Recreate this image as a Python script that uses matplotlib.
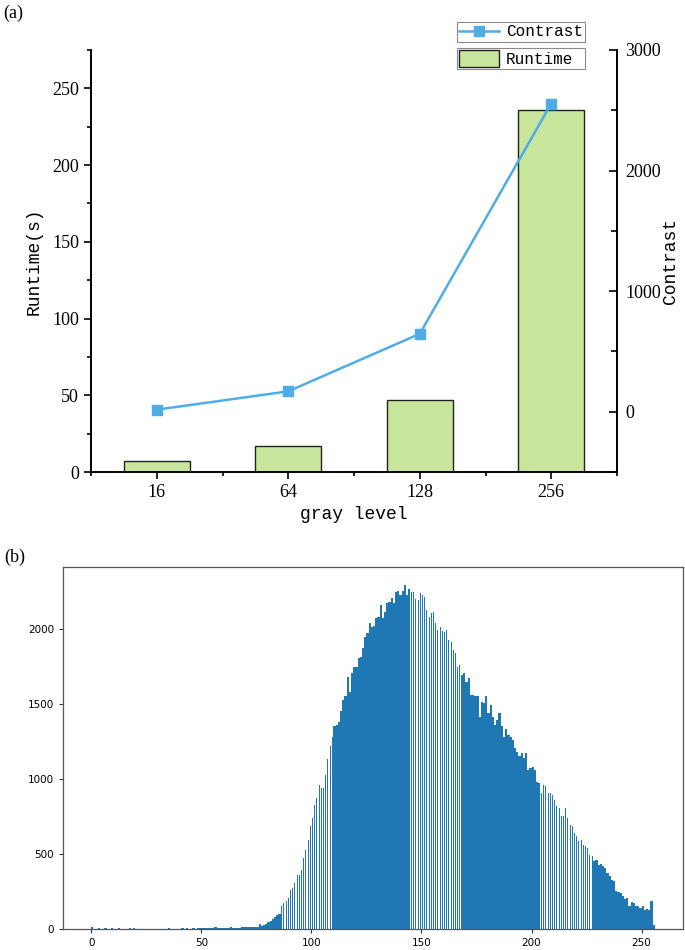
import matplotlib.pyplot as plt
import numpy as np
from matplotlib.ticker import MultipleLocator
from matplotlib.lines import Line2D
from matplotlib.patches import Patch

# panel (a) data
gray_levels = ['16', '64', '128', '256']
runtime = [7.4, 17.0, 46.8, 235.8]      # s
contrast = [17, 169, 646, 2556]

# panel (b) data: 256-bin gray histogram
hist_counts = [
    10, 0, 0, 8, 0, 0, 7, 0, 0, 6, 0, 0, 8, 0, 0, 0, 0, 7, 0, 6,
    0, 0, 0, 0, 0, 0, 0, 0, 0, 0, 0, 0, 0, 0, 0, 5, 0, 0, 0, 0,
    0, 6, 0, 7, 0, 0, 5, 0, 6, 8, 5, 7, 9, 8, 6, 8, 10, 7, 9, 8,
    6, 9, 7, 10, 8, 5, 4, 9, 10, 11, 10, 12, 11, 13, 12, 14,
    30, 22, 28, 35, 45, 55, 67, 78, 90, 100,
    150, 173, 184, 206, 262, 273, 306, 362, 362, 395,
    473, 528, 595, 684, 739, 828, 872, 961, 939, 939,
    1028, 1132, 1217, 1283, 1350, 1361, 1383, 1450, 1527, 1550,
    1683, 1583, 1705, 1749, 1749, 1805, 1816, 1871, 1949, 1971,
    2038, 2016, 2020, 2072, 2083, 2160, 2072, 2116, 2171, 2182,
    2205, 2171, 2249, 2256, 2227, 2256, 2293, 2227, 2264, 2249,
    2249, 2198, 2193, 2238, 2227, 2216, 2127, 2078, 2105, 2116,
    2038, 1994, 2016, 1989, 1983, 1994, 1927, 1916, 1860, 1838,
    1749, 1760,
    1694, 1705, 1649, 1672, 1561, 1561, 1550, 1550, 1416, 1516,
    1505, 1554, 1438, 1494, 1416, 1361, 1394, 1443, 1350, 1283,
    1332, 1294, 1283, 1261, 1205, 1183, 1150, 1172, 1139, 1172,
    1061, 1072, 1083, 1061, 977, 972, 906, 961, 950, 906,
    906, 895, 861, 817, 806, 750, 750, 806, 739, 695,
    684, 639, 617, 584, 595, 562, 551, 540, 495, 488,
    451, 462, 429, 435, 417, 406, 373, 351, 329, 317,
    251, 246, 240, 218, 200, 207, 155, 178, 173, 151,
    151, 140, 151, 129, 133, 124, 184, 29,
]

serif = 'Liberation Serif'
mono = 'Liberation Mono'

fig = plt.figure(figsize=(6.85, 9.5), dpi=100)

# ---------------- (a) runtime / contrast ----------------
ax = fig.add_axes([91/685, 1-472/950, 526/685, 422/950])
x = np.arange(len(gray_levels))
bars = ax.bar(x, runtime, width=0.5, color='#C8E69B', edgecolor='#222222', linewidth=1.0, zorder=2)
ax.set_xlim(-0.5, 3.5)
ax.set_ylim(0, 275)
ax.set_xticks(x)
ax.set_xticklabels(gray_levels, fontfamily=serif)
ax.xaxis.set_minor_locator(MultipleLocator(1, offset=0.5))
ax.yaxis.set_major_locator(MultipleLocator(50))
ax.yaxis.set_minor_locator(MultipleLocator(25))
for lab in ax.get_yticklabels():
    lab.set_fontfamily(serif)
ax.tick_params(which='both', direction='out', width=1.2, labelsize=13, colors='black')
ax.tick_params(which='major', length=5)
ax.tick_params(which='minor', length=3)
ax.spines['top'].set_visible(False)
ax.spines['right'].set_visible(False)
for s in ['left', 'bottom']:
    ax.spines[s].set_linewidth(1.4)
ax.set_ylabel('Runtime(s)', fontfamily=mono, fontsize=13, labelpad=7)
ax.set_xlabel('gray level', fontfamily=mono, fontsize=13, labelpad=4)

ax2 = ax.twinx()
line, = ax2.plot(x, contrast, color='#4FADE5', lw=1.8, marker='s', ms=7,
                 mec='#4FADE5', mfc='#4FADE5')
ax2.set_ylim(-500, 3000)
ax2.yaxis.set_major_locator(MultipleLocator(1000))
ax2.yaxis.set_minor_locator(MultipleLocator(500))
ax2.tick_params(axis='y', which='both', direction='in', width=1.2, labelsize=13, pad=6)
ax2.tick_params(axis='y', which='major', length=6)
ax2.tick_params(axis='y', which='minor', length=4)
for lab in ax2.get_yticklabels():
    lab.set_fontfamily(serif)
for s in ['top', 'left', 'bottom']:
    ax2.spines[s].set_visible(False)
ax2.spines['right'].set_linewidth(1.4)
ax2.set_ylabel('Contrast', fontfamily=mono, fontsize=13, labelpad=1)

# two stacked legend boxes, as in the original
leg_kw = dict(prop={'family': mono, 'size': 11.5}, fancybox=False, framealpha=1,
              edgecolor='#8a8a8a', borderpad=0.15, handletextpad=0.4,
              borderaxespad=0, mode='expand', loc='center',
              bbox_transform=fig.transFigure)
leg1 = fig.legend([Line2D([], [], color='#4FADE5', lw=1.8, marker='s', ms=7)],
                  ['Contrast'], handlelength=2.5,
                  bbox_to_anchor=(457/685, 1-44/950, 128/685, 24/950), **leg_kw)
leg2 = fig.legend([Patch(facecolor='#C8E69B', edgecolor='#222222', linewidth=1.0)],
                  ['Runtime'], handlelength=2.5, handleheight=1.2,
                  bbox_to_anchor=(457/685, 1-71/950, 128/685, 25/950), **leg_kw)
leg1.get_frame().set_linewidth(0.8)
leg2.get_frame().set_linewidth(0.8)

fig.text(3/685, 1-13/950, '(a)', fontfamily=serif, fontsize=13, va='center')

# ---------------- (b) histogram ----------------
axb = fig.add_axes([63/685, 1-929/950, 620/685, 362/950])
bins = np.arange(len(hist_counts))
counts = np.array(hist_counts)
# resampled look of the source image: some stretches show as thin stripes
striped = ((bins >= 86) & (bins < 110)) | ((bins >= 145) & (bins < 168)) | ((bins >= 204) & (bins < 228))
axb.bar(bins[~striped], counts[~striped], width=1.0, align='edge', color='#1f77b4', linewidth=0)
axb.bar(bins[striped] + 0.27, counts[striped], width=0.46, align='edge', color='#1f77b4', linewidth=0)
axb.set_xlim(-12.8, 268.8)
axb.set_ylim(0, 2413)
axb.set_xticks([0, 50, 100, 150, 200, 250])
axb.set_yticks([0, 500, 1000, 1500, 2000])
axb.tick_params(labelsize=7.5, length=3, width=0.8, color='#333333')
for s in axb.spines.values():
    s.set_color('#555555')
    s.set_linewidth(0.9)

fig.text(4/685, 1-557/950, '(b)', fontfamily=serif, fontsize=13, va='center')

fig.savefig('out.png', dpi=100)
